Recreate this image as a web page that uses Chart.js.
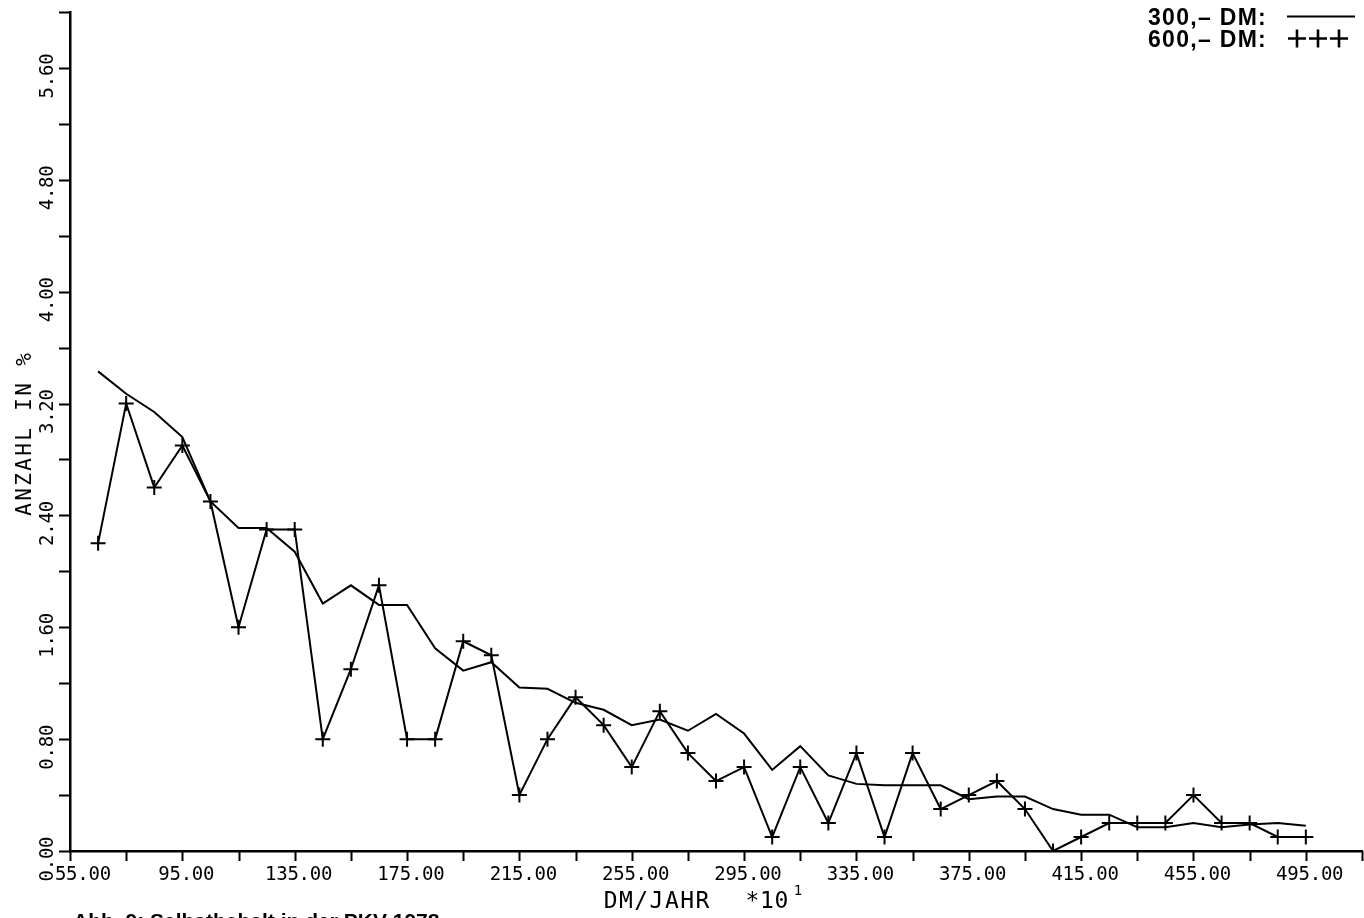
<!DOCTYPE html>
<html>
<head>
<meta charset="utf-8">
<script src="https://cdn.jsdelivr.net/npm/chart.js@4/dist/chart.umd.min.js"></script>
<style>
html,body{margin:0;padding:0;background:#fff;overflow:hidden;}
#wrap{position:relative;width:1364px;height:918px;}
canvas{display:block;}
</style>
</head>
<body>
<div id="wrap"><canvas id="c" width="1364" height="918"></canvas></div>
<script>
// Income classes (DM/Jahr * 10^1), bin centres
const incomeClasses = [65,75,85,95,105,115,125,135,145,155,165,175,185,195,205,215,225,235,245,255,265,275,285,295,305,315,325,335,345,355,365,375,385,395,405,415,425,435,445,455,465,475,485,495];
// Selbstbehalt 300,- DM (solid line)
const share300 = [3.43,3.27,3.14,2.96,2.50,2.31,2.31,2.14,1.77,1.90,1.76,1.76,1.45,1.29,1.35,1.17,1.16,1.06,1.01,0.90,0.94,0.86,0.98,0.84,0.58,0.75,0.54,0.48,0.47,0.47,0.47,0.37,0.39,0.39,0.30,0.26,0.26,0.17,0.17,0.20,0.17,0.19,0.20,0.18];
// Selbstbehalt 600,- DM (+++)
const share600 = [2.2,3.2,2.6,2.9,2.5,1.6,2.3,2.3,0.8,1.3,1.9,0.8,0.8,1.5,1.4,0.4,0.8,1.1,0.9,0.6,1.0,0.7,0.5,0.6,0.1,0.6,0.2,0.7,0.1,0.7,0.3,0.4,0.5,0.3,0.0,0.1,0.2,0.2,0.2,0.4,0.2,0.2,0.1,0.1];
// Axis ticks and labels
const yMinorTicks = [0,0.4,0.8,1.2,1.6,2.0,2.4,2.8,3.2,3.6,4.0,4.4,4.8,5.2,5.6,6.0];
const yLabelValues = [0,0.8,1.6,2.4,3.2,4.0,4.8,5.6];
const yLabels = ["0.00","0.80","1.60","2.40","3.20","4.00","4.80","5.60"];
const xMinorTicks = [55,75,95,115,135,155,175,195,215,235,255,275,295,315,335,355,375,395,415,435,455,475,495,515];
const xLabelValues = [55,95,135,175,215,255,295,335,375,415,455,495];
const xLabels = ["55.00","95.00","135.00","175.00","215.00","255.00","295.00","335.00","375.00","415.00","455.00","495.00"];
const yTitle = "ANZAHL IN %";
const xTitle = "DM/JAHR";
const xTitleFactor = "*10";
const xTitleExp = "1";
const legendNames = ["300,\u2013 DM:","600,\u2013 DM:"];
const caption = "Abb. 9: Selbstbehalt in der PKV 1978";

const MONO = '"DejaVu Sans Mono", "Liberation Mono", monospace';

function spaced(ctx, text, cx, cy, pitch){
  const n = text.length;
  const start = cx - n*pitch/2;
  ctx.textAlign = 'center';
  for(let i=0;i<n;i++){
    ctx.fillText(text[i], start + pitch*(i+0.5), cy);
  }
}

const decor = {
  id:'decor',
  afterDraw(chart){
    const ctx = chart.ctx, xs = chart.scales.x, ys = chart.scales.y;
    const left = chart.chartArea.left, bottom = chart.chartArea.bottom;
    ctx.save();
    ctx.strokeStyle = '#000'; ctx.fillStyle = '#000'; ctx.lineWidth = 2;
    // y ticks
    yMinorTicks.forEach(v=>{
      const y = Math.round(ys.getPixelForValue(v))+0.5;
      ctx.beginPath(); ctx.moveTo(left-11,y); ctx.lineTo(left,y); ctx.stroke();
    });
    // x ticks
    xMinorTicks.forEach(v=>{
      const x = Math.round(xs.getPixelForValue(v))+0.5;
      ctx.beginPath(); ctx.moveTo(x,bottom); ctx.lineTo(x,bottom+10); ctx.stroke();
    });
    // y labels (rotated)
    ctx.font = '19px ' + MONO;
    ctx.textBaseline = 'middle';
    yLabelValues.forEach((v,i)=>{
      const y = ys.getPixelForValue(v);
      ctx.save();
      ctx.translate(48.5, y+8);
      ctx.rotate(-Math.PI/2);
      spaced(ctx, yLabels[i], 0, 0, 11.2);
      ctx.restore();
    });
    // x labels
    ctx.textBaseline = 'alphabetic';
    xLabelValues.forEach((v,i)=>{
      let x = xs.getPixelForValue(v) + 4;
      if(i===0) x = xs.getPixelForValue(v) + 13;
      spaced(ctx, xLabels[i], x, 880, 11.2);
    });
    // y title
    ctx.font = '21px ' + MONO;
    ctx.textBaseline = 'middle';
    ctx.save();
    ctx.translate(26, 434.5);
    ctx.rotate(-Math.PI/2);
    spaced(ctx, yTitle, 0, 0, 15);
    ctx.restore();
    // x title
    ctx.textBaseline = 'alphabetic';
    ctx.font = '23px ' + MONO;
    spaced(ctx, xTitle, 656.5, 908, 15.3);
    spaced(ctx, xTitleFactor, 767, 908, 14.5);
    ctx.font = '14px ' + MONO;
    ctx.textAlign = 'center';
    ctx.fillText(xTitleExp, 798, 895);
    // legend
    ctx.font = 'bold 23px "Liberation Sans", Arial, sans-serif';
    ctx.letterSpacing = '1.3px';
    ctx.textAlign = 'left';
    ctx.fillText(legendNames[0], 1148, 25);
    ctx.fillText(legendNames[1], 1148, 47);
    ctx.letterSpacing = '0px';
    ctx.lineWidth = 2;
    ctx.beginPath(); ctx.moveTo(1287,16.5); ctx.lineTo(1355,16.5); ctx.stroke();
    ctx.lineWidth = 2.6;
    [1297,1318,1339].forEach(cx=>{
      const cy = 38.5, h = 9;
      ctx.beginPath();
      ctx.moveTo(cx-h,cy); ctx.lineTo(cx+h,cy);
      ctx.moveTo(cx,cy-h); ctx.lineTo(cx,cy+h);
      ctx.stroke();
    });
    // caption (cut at page bottom)
    ctx.font = 'bold 21px "Liberation Sans", Arial, sans-serif';
    ctx.textAlign = 'left';
    ctx.fillText(caption, 73, 928);
    ctx.restore();
  }
};

new Chart(document.getElementById('c'), {
  type:'line',
  data:{
    datasets:[
      {
        label:'300,- DM',
        data: incomeClasses.map((x,i)=>({x:x, y:share300[i]})),
        borderColor:'#000', borderWidth:2, pointRadius:0, tension:0, fill:false
      },
      {
        label:'600,- DM',
        data: incomeClasses.map((x,i)=>({x:x, y:share600[i]})),
        borderColor:'#000', borderWidth:2, pointStyle:'cross', pointRadius:7.5,
        pointBorderWidth:2, pointBorderColor:'#000', tension:0, fill:false
      }
    ]
  },
  options:{
    responsive:false, animation:false, devicePixelRatio:1,
    layout:{autoPadding:false, padding:{top:12,right:2,left:0,bottom:0}},
    plugins:{legend:{display:false}, tooltip:{enabled:false}},
    scales:{
      x:{type:'linear', min:55, max:515,
         afterFit(s){ s.height = 67; },
         grid:{display:false, drawTicks:false},
         border:{display:true, color:'#000', width:2.5},
         ticks:{display:false}},
      y:{type:'linear', min:0, max:6,
         afterFit(s){ s.width = 70; },
         grid:{display:false, drawTicks:false},
         border:{display:true, color:'#000', width:2.5},
         ticks:{display:false, stepSize:0.4}}
    }
  },
  plugins:[decor]
});
</script>
</body>
</html>
